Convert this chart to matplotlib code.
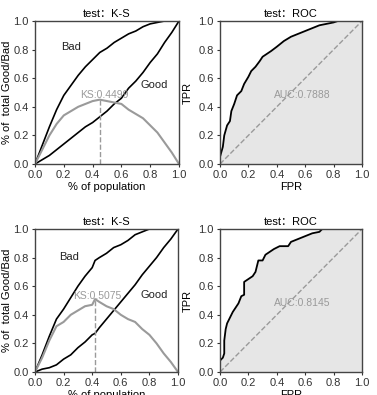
import matplotlib
matplotlib.use("Agg")
import matplotlib.pyplot as plt
import numpy as np

plt.rcParams['font.family'] = ['Liberation Sans', 'Noto Sans CJK SC', 'DejaVu Sans']

# ---- data: top K-S ----
ks1_x = [0, 0.05, 0.1, 0.15, 0.2, 0.25, 0.3, 0.35, 0.4, 0.45, 0.5, 0.55, 0.6, 0.65, 0.7, 0.75, 0.8, 0.85, 0.9, 0.95, 1.0]
ks1_bad = [0, 0.13, 0.26, 0.38, 0.48, 0.55, 0.62, 0.68, 0.73, 0.78, 0.81, 0.85, 0.88, 0.91, 0.93, 0.96, 0.98, 0.99, 1.0, 1.0, 1.0]
ks1_good = [0, 0.03, 0.06, 0.10, 0.14, 0.18, 0.22, 0.26, 0.29, 0.33, 0.37, 0.42, 0.46, 0.53, 0.58, 0.64, 0.71, 0.77, 0.85, 0.92, 1.0]
ks1_label = "KS:0.4499"
ks1_at = 0.45

# ---- data: bottom K-S ----
ks2_x = [0, 0.05, 0.1, 0.15, 0.2, 0.25, 0.3, 0.35, 0.4, 0.42, 0.45, 0.5, 0.55, 0.6, 0.65, 0.7, 0.75, 0.8, 0.85, 0.9, 0.95, 1.0]
ks2_bad = [0, 0.12, 0.25, 0.37, 0.44, 0.52, 0.60, 0.67, 0.73, 0.78, 0.80, 0.83, 0.87, 0.89, 0.92, 0.96, 0.98, 1.0, 1.0, 1.0, 1.0, 1.0]
ks2_good = [0, 0.02, 0.03, 0.05, 0.09, 0.12, 0.17, 0.21, 0.26, 0.27, 0.31, 0.37, 0.43, 0.49, 0.55, 0.61, 0.68, 0.74, 0.80, 0.87, 0.93, 1.0]
ks2_label = "KS:0.5075"
ks2_at = 0.42

# ---- data: top ROC ----
roc1_fpr = [0, 0, 0.02, 0.03, 0.05, 0.07, 0.08, 0.1, 0.12, 0.15, 0.17, 0.2, 0.22, 0.25, 0.28, 0.3, 0.33, 0.36, 0.4, 0.45, 0.5, 0.55, 0.6, 0.65, 0.7, 0.75, 0.8, 0.83, 1.0]
roc1_tpr = [0, 0.05, 0.12, 0.2, 0.27, 0.3, 0.37, 0.42, 0.48, 0.51, 0.56, 0.61, 0.65, 0.68, 0.72, 0.75, 0.77, 0.79, 0.82, 0.86, 0.89, 0.91, 0.93, 0.95, 0.97, 0.98, 0.99, 1.0, 1.0]
roc1_label = "AUC:0.7888"

# ---- data: bottom ROC ----
roc2_fpr = [0, 0, 0.02, 0.03, 0.03, 0.04, 0.05, 0.07, 0.09, 0.11, 0.13, 0.15, 0.17, 0.17, 0.2, 0.23, 0.25, 0.27, 0.3, 0.32, 0.35, 0.38, 0.42, 0.48, 0.5, 0.55, 0.6, 0.65, 0.7, 0.72, 1.0]
roc2_tpr = [0, 0.08, 0.10, 0.13, 0.22, 0.30, 0.34, 0.38, 0.42, 0.45, 0.48, 0.53, 0.54, 0.63, 0.65, 0.67, 0.70, 0.78, 0.78, 0.82, 0.84, 0.86, 0.88, 0.88, 0.91, 0.93, 0.95, 0.97, 0.98, 1.0, 1.0]
roc2_label = "AUC:0.8145"

W, H = 377, 395
fig = plt.figure(figsize=(W / 100, H / 100), dpi=100)

def box(l, t, r, b):
    return [l / W, 1 - b / H, (r - l) / W, (b - t) / H]

gray = '#9a9a9a'
tick_fs = 8
lab_fs = 8

def style(ax):
    ax.set_xlim(0, 1)
    ax.set_ylim(0, 1)
    ax.set_xticks(np.arange(0, 1.01, 0.2))
    ax.set_yticks(np.arange(0, 1.01, 0.2))
    ax.tick_params(labelsize=tick_fs, length=2.5, width=0.8, pad=2, colors='#333333')
    for s in ax.spines.values():
        s.set_color('#444444')
        s.set_linewidth(1.0)

def ks_plot(ax, x, bad, good, label, at, badpos, goodpos, kspos):
    x = np.array(x); bad = np.array(bad); good = np.array(good)
    ks = bad - good
    ax.plot(x, bad, color='black', lw=1.2)
    ax.plot(x, good, color='black', lw=1.2)
    ax.plot(x, ks, color=gray, lw=1.5)
    i = int(np.argmin(np.abs(x - at)))
    ax.plot([x[i], x[i]], [0, ks[i]], color=gray, lw=1.0, ls='--')
    ax.text(*badpos, "Bad", fontsize=8, color='#222222')
    ax.text(*goodpos, "Good", fontsize=8, color='#222222')
    ax.text(*kspos, label, fontsize=7.5, color=gray)
    ax.set_title("test\uff1aK-S", fontsize=8, pad=3)
    ax.set_xlabel("% of population", fontsize=lab_fs, labelpad=1)
    ax.set_ylabel("% of  total Good/Bad", fontsize=lab_fs, labelpad=1)
    style(ax)

def roc_plot(ax, fpr, tpr, label):
    ax.fill_between(fpr, tpr, 0, color='#e6e6e6', lw=0)
    ax.plot(fpr, tpr, color='black', lw=1.3)
    ax.plot([0, 1], [0, 1], color=gray, lw=1.0, ls='--')
    ax.text(0.38, 0.46, label, fontsize=7.5, color=gray)
    ax.set_title("test\uff1aROC", fontsize=8, pad=3)
    ax.set_xlabel("FPR", fontsize=lab_fs, labelpad=1)
    ax.set_ylabel("TPR", fontsize=lab_fs, labelpad=4)
    style(ax)

ax1 = fig.add_axes(box(35, 21, 179, 164))
ks_plot(ax1, ks1_x, ks1_bad, ks1_good, ks1_label, ks1_at, (0.18, 0.8), (0.73, 0.53), (0.31, 0.46))
ax2 = fig.add_axes(box(220, 21, 362, 164))
roc_plot(ax2, roc1_fpr, roc1_tpr, roc1_label)
ax3 = fig.add_axes(box(35, 229, 178, 372))
ks_plot(ax3, ks2_x, ks2_bad, ks2_good, ks2_label, ks2_at, (0.17, 0.78), (0.74, 0.52), (0.27, 0.51))
ax4 = fig.add_axes(box(220, 229, 362, 372))
roc_plot(ax4, roc2_fpr, roc2_tpr, roc2_label)

fig.savefig("out.png", dpi=100)
